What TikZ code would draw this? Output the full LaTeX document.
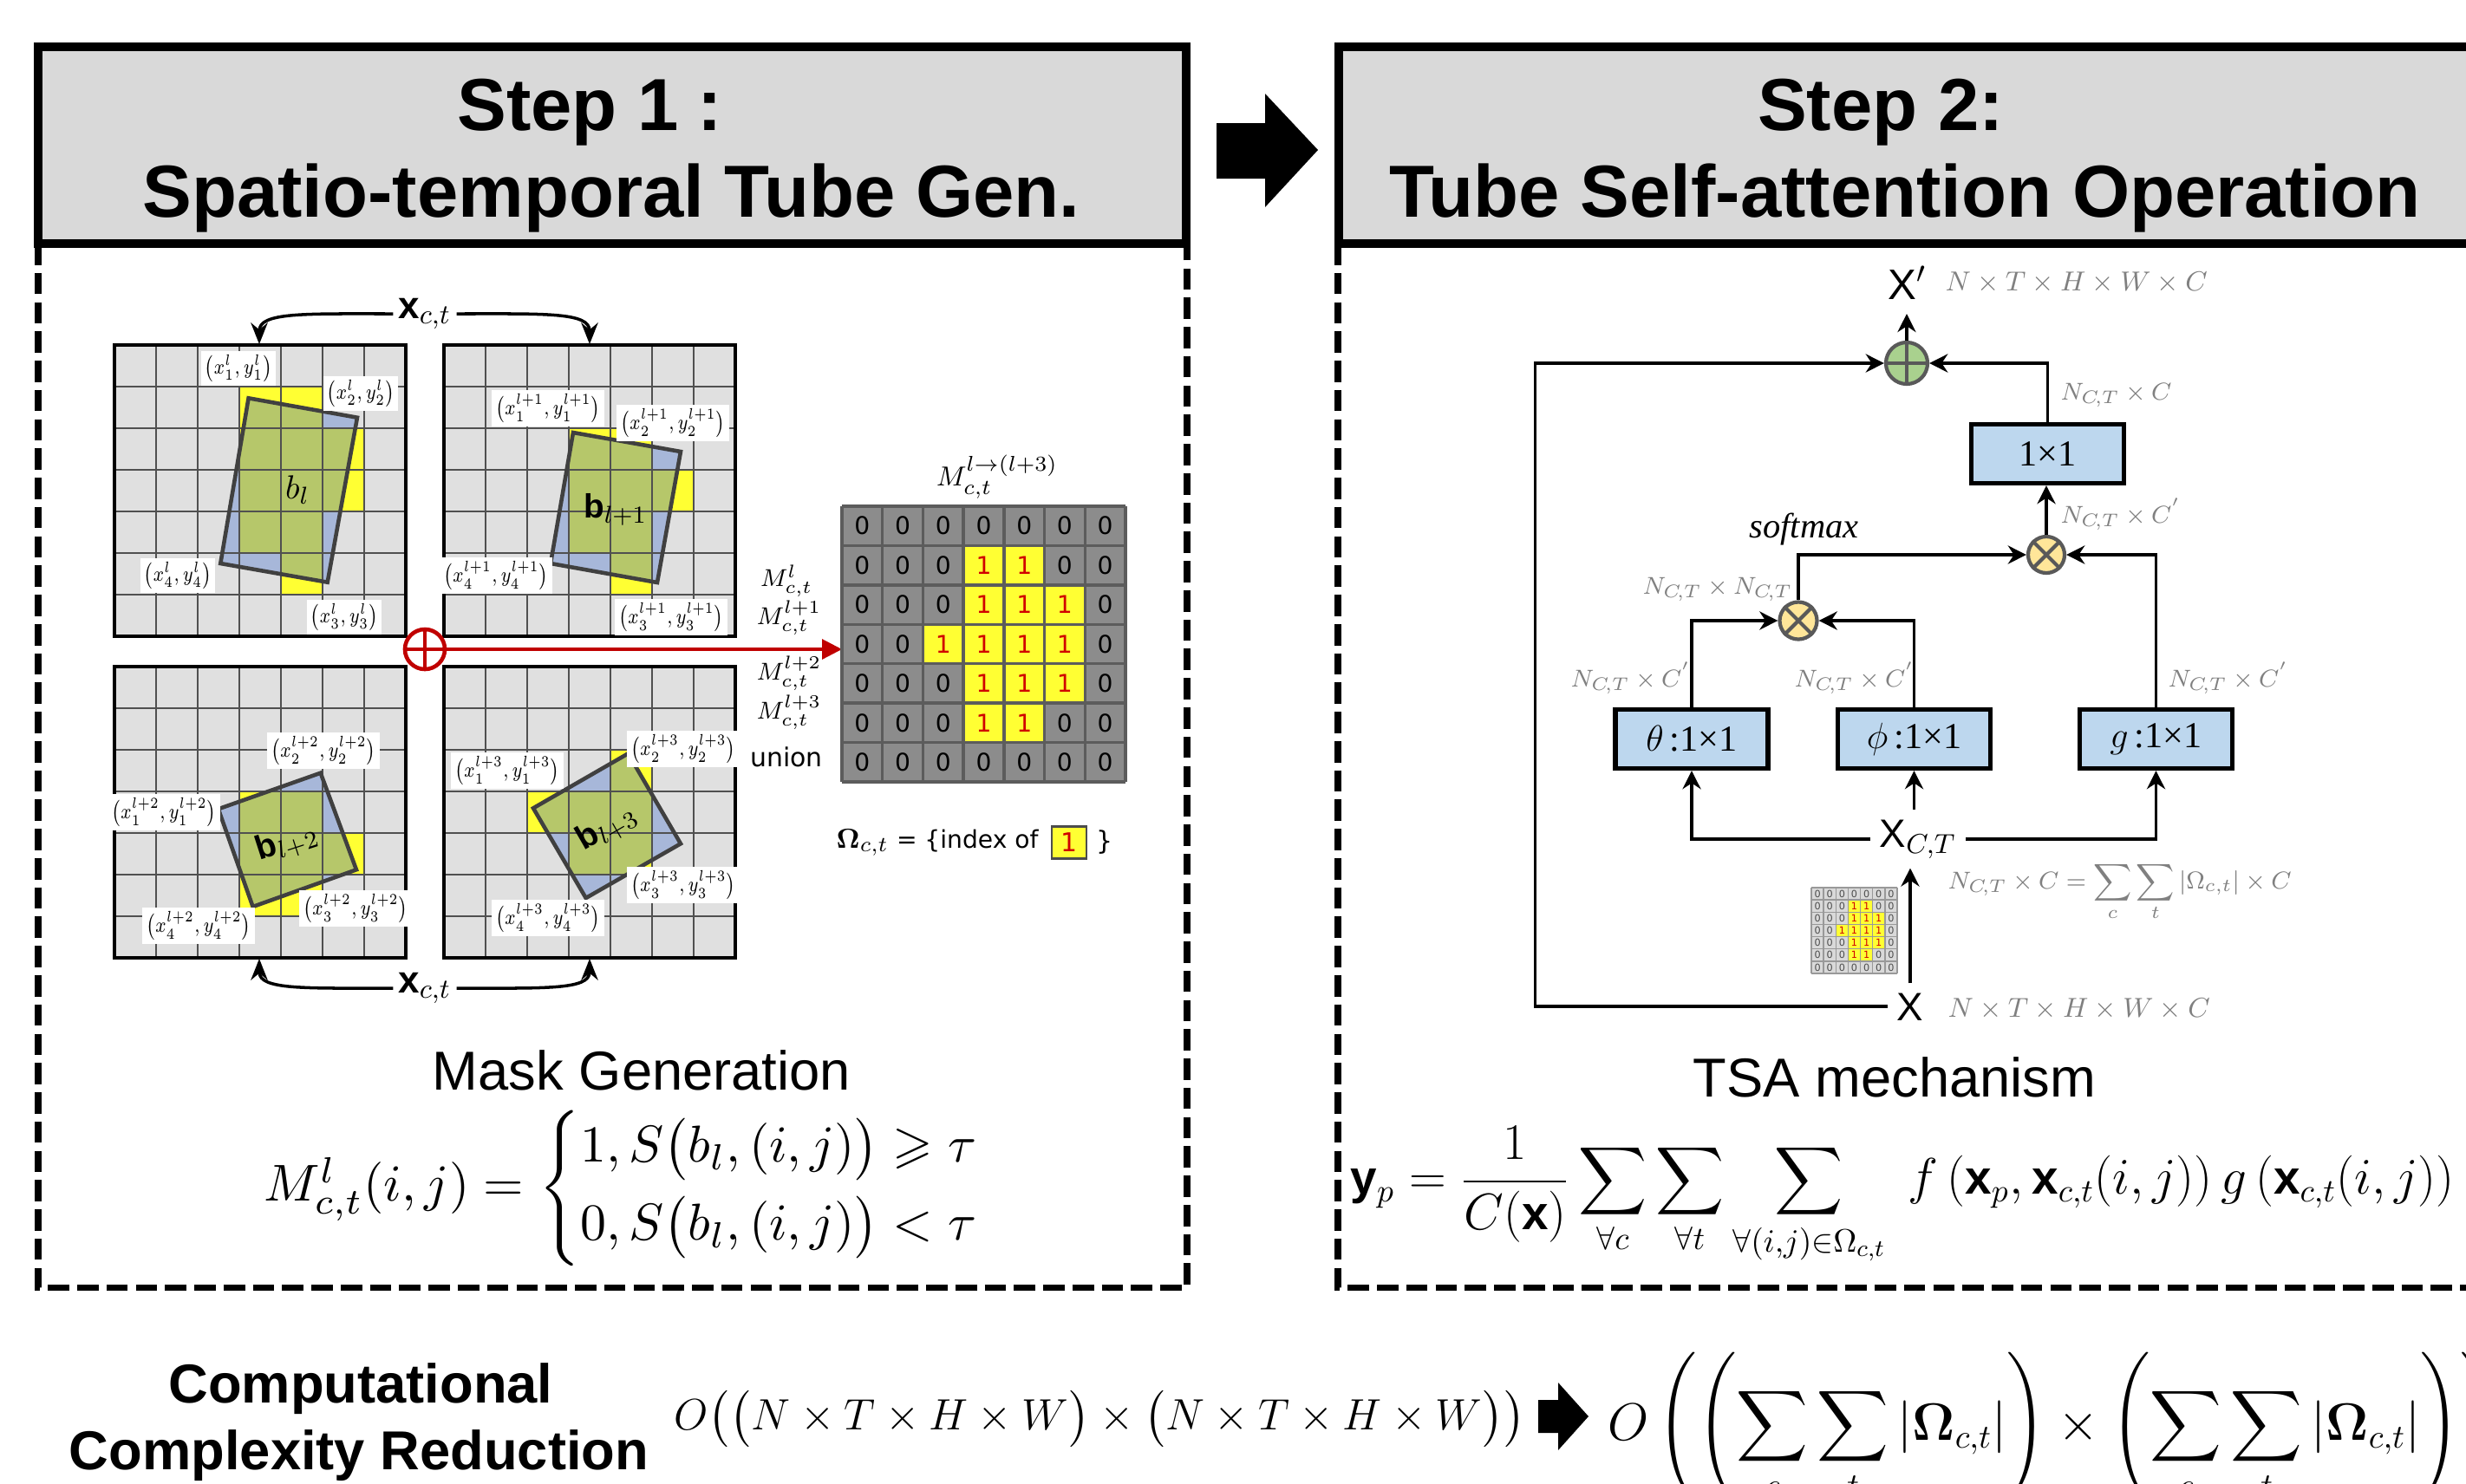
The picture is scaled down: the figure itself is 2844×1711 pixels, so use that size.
\documentclass[tikz,border=0pt]{standalone}
\usepackage{amsmath,amssymb}
\usepackage{graphicx}
\usepackage{fontspec}
\setmainfont{Liberation Sans}
\newfontfamily\dejavu{DejaVu Sans}
\newfontfamily\tnr{Liberation Serif}
\usetikzlibrary{arrows.meta}

\definecolor{cellgray}{HTML}{E0E0E0}
\definecolor{smallgray}{HTML}{D9D9D9}
\definecolor{gridgray}{HTML}{505050}
\definecolor{maskyellow}{HTML}{FFFF33}
\definecolor{boxblue}{HTML}{A7B7D9}
\definecolor{boxgreen}{HTML}{B6C76A}
\definecolor{matgray}{HTML}{8C8C8C}
\definecolor{matline}{HTML}{5C5C5C}
\definecolor{hdrgray}{HTML}{D9D9D9}
\definecolor{convblue}{HTML}{BDD7EE}
\definecolor{plusgreen}{HTML}{A9D18E}
\definecolor{mulyellow}{HTML}{FFE699}
\definecolor{dimgray}{HTML}{808080}
\definecolor{redline}{HTML}{C00000}
\definecolor{onered}{HTML}{D00000}

\tikzset{
  hdrbox/.style={draw=black, line width=3.1pt, fill=hdrgray},
  dashframe/.style={draw=black, line width=2pt, dash pattern=on 7pt off 2.6pt},
  hdrtext/.style={font=\fontsize{24.2}{29}\selectfont\bfseries, inner sep=0pt, anchor=base},
  coordlab/.style={fill=white, inner sep=1.2pt, font=\fontsize{7.2}{8}\selectfont},
  gridline/.style={draw=gridgray, line width=0.6pt},
  gridframe/.style={draw=black, line width=1.1pt},
  tubebox/.style={draw=black!75, line width=1.3pt},
  blabel/.style={font=\fontsize{11}{13}\selectfont, inner sep=0pt},
  curvearrow/.style={draw=black, line width=1pt, -{Stealth[length=7pt,width=5.5pt]}},
  redarrow/.style={draw=redline, line width=0.9pt, -{Triangle[length=6.5pt,width=6.5pt]}},
  matdigit/.style={font=\dejavu\fontsize{8}{9}\selectfont, inner sep=0pt},
  matlinestyle/.style={draw=matline, line width=1pt},
  masklab/.style={font=\fontsize{8}{9}\selectfont, inner sep=0pt},
  flow/.style={draw=black, line width=1.1pt, -{Stealth[length=6pt,width=6pt]}},
  conv/.style={draw=black, line width=1.5pt, fill=convblue, minimum width=1.76cm,
    minimum height=0.68cm, inner sep=0pt, font=\fontsize{12}{14}\selectfont},
  dimlab/.style={text=dimgray, font=\fontsize{8.5}{10}\selectfont, inner sep=0pt, anchor=base west},
  opcircle/.style={circle, draw=black!65, line width=1.2pt, inner sep=0pt},
  caption/.style={font=\fontsize{18}{22}\selectfont, inner sep=0pt, anchor=base},
}

% corner coordinate label, set a little narrow
\newcommand{\ptlab}[2]{\scalebox{0.8}[1]{$\bigl(x_{#1}^{#2},y_{#1}^{#2}\bigr)$}}
\newcommand{\nct}{N_{C\!,T}}

% one frame: 7x7 grid, marked cells (row/col), rotated tube box on top
\newcommand{\tubegrid}[4]{%
  \fill[cellgray] (#1,#2) rectangle ++(336,336);
  \foreach \rr/\cc in {#3} \fill[maskyellow] ({#1+48*\cc},{#2+48*\rr}) rectangle ++(48,48);
  \fill[boxblue] #4;
  \begin{scope}
    \clip #4;
    \foreach \rr/\cc in {#3} \fill[boxgreen] ({#1+48*\cc},{#2+48*\rr}) rectangle ++(48,48);
  \end{scope}
  \foreach \k in {1,...,6} {
    \draw[gridline] ({#1+48*\k},#2) -- ++(0,336);
    \draw[gridline] (#1,{#2+48*\k}) -- ++(336,0);
  }
  \draw[tubebox] #4;
  \draw[gridframe] (#1,#2) rectangle ++(336,336);
}

\def\onecells{1/3,1/4,2/3,2/4,2/5,3/2,3/3,3/4,3/5,4/3,4/4,4/5,5/3,5/4}

\begin{document}
\begin{tikzpicture}[x=0.01cm, y=-0.01cm]
\useasboundingbox (0,0) rectangle (2844,1711);
\clip (0,0) rectangle (2844,1711);
\fill[white] (0,0) rectangle (2844,1711);

% ---------- panel frames and headers ----------
\draw[dashframe] (44,281) -- (44,1485) -- (1369,1485) -- (1369,281);
\draw[dashframe] (1543,281) -- (1543,1485) -- (2900,1485);
\draw[hdrbox] (44,54) rectangle (1368,281);
\draw[hdrbox] (1544,54) rectangle (2900,281);
\node[hdrtext] (h1a) at (680,150) {Step 1\hspace{0.25em}:};
\node[hdrtext] (h1b) at (705,250) {Spatio-temporal Tube Gen.};
\node[hdrtext] (h2a) at (2169,150) {Step 2:};
\node[hdrtext] (h2b) at (2197,250) {Tube Self-attention Operation};
\fill (1403,142) -- (1459,142) -- (1459,108) -- (1520,173) -- (1459,239)
      -- (1459,206) -- (1403,206) -- cycle;

% ---------- step 1: four frames ----------
\tubegrid{132}{398}{1/3,1/4,2/3,2/4,2/5,3/3,3/4,3/5,4/3,4/4,5/4}
  {(286.6,459.3)--(412,481.7)--(377.7,671.7)--(254.3,650)--cycle}
\tubegrid{512}{398}{2/3,2/4,3/3,3/4,3/5,4/3,4/4,5/4}
  {(661,499)--(785,521)--(758,672)--(635,650)--cycle}
\tubegrid{132}{769}{3/3,3/4,4/3,4/4,4/5,5/3,5/4}
  {(251.8,933.3)--(369.7,891.7)--(411,1003.3)--(291.6,1046)--cycle}
\tubegrid{512}{769}{2/4,3/2,3/3,3/4,4/3,4/4}
  {(724.4,869.3)--(785,973.3)--(675.7,1036)--(615,932.3)--cycle}

\node[blabel] (btl) at (343,565) {$b_{l}$};
\node[blabel] (btr) at (710,588) {$\mathbf{b}_{l+1}$};
\node[blabel, rotate=18] (bbl) at (331,972) {$\mathbf{b}_{l+2}$};
\node[blabel, rotate=30] (bbr) at (700,955) {$\mathbf{b}_{l+3}$};

\node[coordlab] (tl1) at (275,425) {\ptlab{1}{l}};
\node[coordlab] (tl2) at (416,454) {\ptlab{2}{l}};
\node[coordlab] (tl4) at (205,664) {\ptlab{4}{l}};
\node[coordlab] (tl3) at (397,712) {\ptlab{3}{l}};
\node[coordlab] (tr1) at (632,471) {\ptlab{1}{l+1}};
\node[coordlab] (tr2) at (776,488) {\ptlab{2}{l+1}};
\node[coordlab] (tr4) at (572,664) {\ptlab{4}{l+1}};
\node[coordlab] (tr3) at (774,712) {\ptlab{3}{l+1}};
\node[coordlab] (bl2) at (373,866) {\ptlab{2}{l+2}};
\node[coordlab] (bl1) at (189,937) {\ptlab{1}{l+2}};
\node[coordlab] (bl3) at (410,1048) {\ptlab{3}{l+2}};
\node[coordlab] (bl4) at (229,1068) {\ptlab{4}{l+2}};
\node[coordlab] (br2) at (788,864) {\ptlab{2}{l+3}};
\node[coordlab] (br1) at (585,889) {\ptlab{1}{l+3}};
\node[coordlab] (br3) at (788,1021) {\ptlab{3}{l+3}};
\node[coordlab] (br4) at (632,1059) {\ptlab{4}{l+3}};

% feature labels and curved arrows
\node[font=\fontsize{12.5}{14}\selectfont, inner sep=1.5pt] (xtop) at (490,362) {$\mathbf{x}_{c,t}$};
\node[font=\fontsize{12.5}{14}\selectfont, inner sep=1.5pt] (xbot) at (490,1140) {$\mathbf{x}_{c,t}$};
\coordinate (tlIn) at (299,397);
\coordinate (trIn) at (680,397);
\coordinate (blIn) at (299,1106);
\coordinate (brIn) at (680,1106);
\draw[curvearrow] (xtop.west) .. controls (350,362) and (299,360) .. (tlIn);
\draw[curvearrow] (xtop.east) .. controls (630,362) and (680,360) .. (trIn);
\draw[curvearrow] (xbot.west) .. controls (350,1140) and (299,1142) .. (blIn);
\draw[curvearrow] (xbot.east) .. controls (630,1140) and (680,1142) .. (brIn);

% union symbol and arrow to the mask
\node[circle, draw=redline, line width=1.3pt, minimum size=0.46cm, inner sep=0pt] (uni) at (490,749) {};
\draw[redline, line width=1.3pt] (uni.north) -- (uni.south) (uni.west) -- (uni.east);
\coordinate (matNW) at (971,584);
\draw[redarrow] (uni.east) -- (uni.east -| matNW);

% ---------- union mask ----------
\fill[matgray] (971,584) rectangle (1298,902);
\foreach \rr in {0,...,6} \foreach \cc in {0,...,6}
  \node[matdigit] (z\rr\cc) at ({971+46.71*(\cc+0.5)},{584+45.43*(\rr+0.5)}) {0};
\foreach \rr/\cc in \onecells {
  \fill[maskyellow] ({971+46.71*\cc},{584+45.43*\rr}) rectangle ++(46.71,45.43);
  \node[matdigit, text=onered] (o\rr\cc) at ({971+46.71*(\cc+0.5)},{584+45.43*(\rr+0.5)}) {1};
}
\foreach \k in {0,...,7} {
  \draw[matlinestyle] ({971+46.71*\k},584) -- ++(0,318);
  \draw[matlinestyle] (971,{584+45.43*\k}) -- ++(327,0);
}
\node[font=\fontsize{9.5}{11}\selectfont, inner sep=0pt] (mtop) at (1150,550) {$M_{c,t}^{l\rightarrow(l+3)}$};
\node[masklab] (m0) at (907,670) {$M_{c,t}^{l}$};
\node[masklab] (m1) at (910,713) {$M_{c,t}^{l+1}$};
\node[masklab] (m2) at (910,777) {$M_{c,t}^{l+2}$};
\node[masklab] (m3) at (910,822) {$M_{c,t}^{l+3}$};
\node[font=\dejavu\fontsize{8.5}{10}\selectfont, inner sep=0pt] (munion) at (907,873) {union};

\node[anchor=west, inner sep=0pt, font=\dejavu\fontsize{8}{10}\selectfont] (omg) at (964,972)
  {{\fontsize{9.5}{12}\selectfont$\boldsymbol{\Omega}_{c,t}$} = \{index of};
\node[draw=black!70, line width=0.8pt, fill=maskyellow, minimum width=0.40cm, minimum height=0.37cm,
  inner sep=0pt, text=onered, font=\dejavu\fontsize{8.5}{10}\selectfont] (onebox) at (1233,972) {1};
\node[inner sep=0pt, font=\dejavu\fontsize{8.5}{10}\selectfont] (omgend) at (1274,972) {\}};

\node[caption] (capmask) at (740,1257) {Mask Generation};
\node[inner sep=0pt] (maskeq) at (719,1371) {\resizebox{8.28cm}{!}{$M_{c,t}^{l}(i,j)=\left\{\begin{array}{@{}l@{}}1, S\big(b_l,(i,j)\big)\geqslant\tau\\[3pt] 0, S\big(b_l,(i,j)\big)<\tau\end{array}\right.$}};

% ---------- step 2: TSA block ----------
\node[conv] (conv) at (2361.5,523.5) {{\tnr 1×1}};
\node[conv] (theta) at (1951,852.5) {$\theta$\,{\tnr :1×1}};
\node[conv] (phi) at (2207.5,852.5) {$\phi$\,{\tnr :1×1}};
\node[conv] (gbox) at (2486.5,852.5) {$g$\,{\tnr :1×1}};

\node[opcircle, fill=plusgreen, minimum size=0.48cm] (plus) at (2199,419) {};
\draw[black!65, line width=1.2pt] (plus.north) -- (plus.south) (plus.west) -- (plus.east);
\node[opcircle, fill=mulyellow, minimum size=0.42cm] (mulU) at (2360,640) {};
\draw[black!65, line width=1.2pt] (mulU.north west) -- (mulU.south east) (mulU.north east) -- (mulU.south west);
\node[opcircle, fill=mulyellow, minimum size=0.43cm] (mulL) at (2074,716) {};
\draw[black!65, line width=1.2pt] (mulL.north west) -- (mulL.south east) (mulL.north east) -- (mulL.south west);

\node[anchor=base west, inner sep=0pt, font=\fontsize{14}{16}\selectfont] (Xout) at (2177,345) {$\mathrm{X}'$};
\node[anchor=base, inner sep=3pt, font=\fontsize{13}{15}\selectfont] (Xin) at (2203,1177) {$\mathrm{X}$};
\node[anchor=base, inner sep=3pt, font=\fontsize{13}{15}\selectfont] (XCT) at (2212,977) {$\mathrm{X}_{C,T}$};
\coordinate (outTip) at (2199,362);

\draw[flow] (plus.north) -- (outTip);
\draw[flow] (Xin.west) -- ++(-406,0) |- (plus.west);
\draw[flow] (conv.north) |- (plus.east);
\draw[flow] (mulU.north) -- (mulU.north |- conv.south);
\draw[flow] (mulL.north) |- (mulU.west);
\draw[flow] (gbox.north) |- (mulU.east);
\draw[flow] (theta.north) |- (mulL.west);
\draw[flow] (phi.north) |- (mulL.east);
\draw[flow] (XCT.west) -| (theta.south);
\draw[flow] (XCT.east) -| (gbox.south);
\draw[flow] (XCT.north -| phi.south) -- (phi.south);
\draw[flow] (Xin.north) -- (Xin.north |- XCT.south);

\node[dimlab, font=\fontsize{9.5}{11}\selectfont] (dXout) at (2243,335) {$N\times T\times H\times W\times C$};
\node[dimlab, font=\fontsize{9.5}{11}\selectfont] (dXin) at (2246,1173) {$N\times T\times H\times W\times C$};
\node[dimlab] (dconv) at (2376,461) {$\nct\times C$};
\node[dimlab] (dmul) at (2376,603) {$\nct\times C^{'}$};
\node[dimlab] (dattn) at (1894,685) {$\nct\times \nct$};
\node[dimlab] (dth) at (1811,792) {$\nct\times C^{'}$};
\node[dimlab] (dph) at (2069,792) {$\nct\times C^{'}$};
\node[dimlab] (dg) at (2500,792) {$\nct\times C^{'}$};
\node[dimlab] (dsum) at (2246,1025) {$\displaystyle \nct\times C=\sum_{c}\sum_{t}\left|\Omega_{c,t}\right|\times C$};
\node[anchor=base west, inner sep=0pt, font=\tnr\itshape\fontsize{11.5}{13}\selectfont] (smx) at (2017,620) {softmax};

% small copy of the mask beside the input arrow
\fill[smallgray] (2089,1024) rectangle ++(99,99);
\foreach \rr in {0,...,6} \foreach \cc in {0,...,6}
  \node[inner sep=0pt, text=black!70, font=\dejavu\fontsize{3.2}{4}\selectfont] (sz\rr\cc) at ({2089+14.14*(\cc+0.5)},{1024+14.14*(\rr+0.5)}) {0};
\foreach \rr/\cc in \onecells {
  \fill[maskyellow] ({2089+14.14*\cc},{1024+14.14*\rr}) rectangle ++(14.14,14.14);
  \node[inner sep=0pt, text=onered, font=\dejavu\fontsize{3.2}{4}\selectfont] (so\rr\cc) at ({2089+14.14*(\cc+0.5)},{1024+14.14*(\rr+0.5)}) {1};
}
\foreach \k in {0,...,7} {
  \draw[black!40, line width=0.4pt] ({2089+14.14*\k},1024) -- ++(0,99);
  \draw[black!40, line width=0.4pt] (2089,{1024+14.14*\k}) -- ++(99,0);
}

\node[caption] (captsa) at (2185,1265) {TSA mechanism};
\node[anchor=west, inner sep=0pt] (tsaeq) at (1557,1380)
  {\resizebox{12.72cm}{!}{\fontsize{16}{19}\selectfont$\displaystyle \mathbf{y}_{p}=\frac{1}{C(\mathbf{x})}\sum_{\forall c}\sum_{\forall t}\sum_{\forall (i,j)\in\Omega_{c,t}}\; f\left(\mathbf{x}_{p},\mathbf{x}_{c,t}(i,j)\right)g\left(\mathbf{x}_{c,t}(i,j)\right)$}};

% ---------- complexity row ----------
\node[caption, font=\fontsize{18}{22}\selectfont\bfseries] (cc1) at (416,1618) {Computational};
\node[caption, font=\fontsize{18}{22}\selectfont\bfseries] (cc2) at (414,1695) {Complexity Reduction};
\node[anchor=west, inner sep=0pt, font=\fontsize{15.5}{18}\selectfont] (cplx1) at (777,1637)
  {$O\big(\big(N\times T\times H\times W\big)\times\big(N\times T\times H\times W\big)\big)$};
\fill (1774,1615) -- (1797,1615) -- (1797,1595) -- (1832,1634) -- (1797,1673) -- (1797,1653)
      -- (1774,1653) -- cycle;
\node[anchor=base west, inner sep=0pt, font=\fontsize{16.3}{19}\selectfont] (cplx2) at (1854,1661)
  {$\displaystyle O\left(\left(\sum_{c}\sum_{t}\left|\boldsymbol{\Omega}_{c,t}\right|\right)\times\left(\sum_{c}\sum_{t}\left|\boldsymbol{\Omega}_{c,t}\right|\right)\right)$};
\end{tikzpicture}
\end{document}
